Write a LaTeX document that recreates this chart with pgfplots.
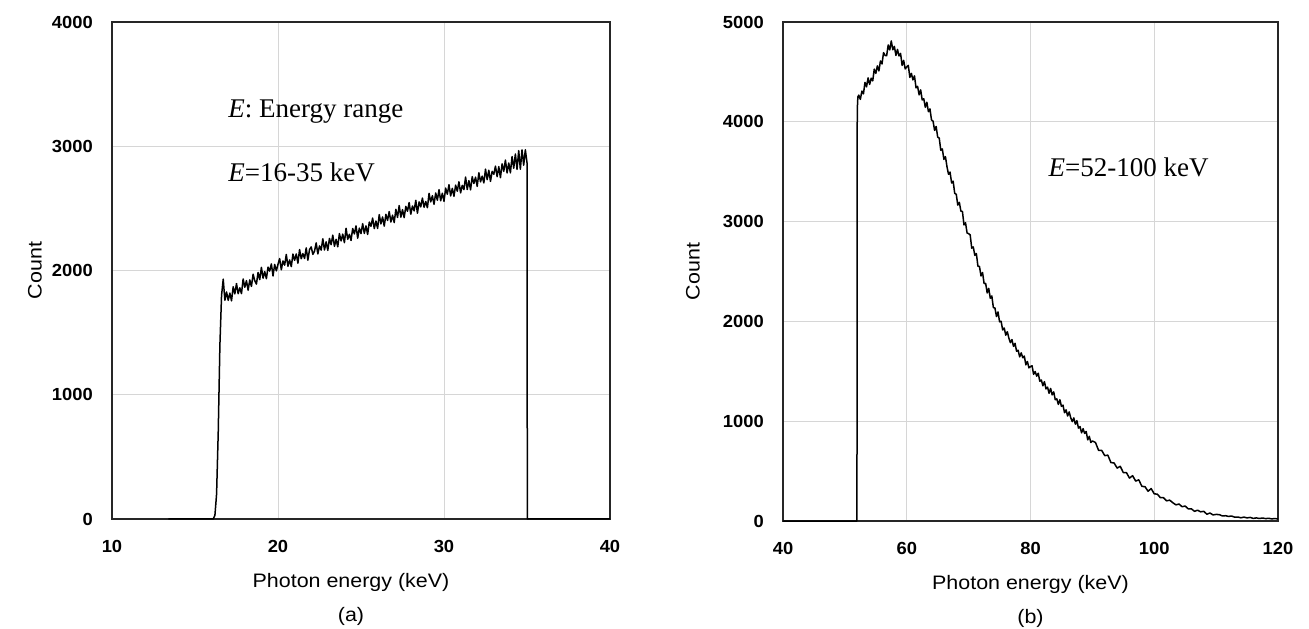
\documentclass[border=0pt]{standalone}
\usepackage{fontspec}
\setmainfont{Liberation Sans}
\newfontfamily\timesf{Liberation Serif}
\usepackage{graphicx}
\usepackage{pgfplots}
\pgfplotsset{compat=1.18}
\newcommand{\tl}[1]{\scalebox{1.05}[1]{\bfseries #1}}
\newcommand{\lb}[1]{\scalebox{1.1}[1]{#1}}
\pgfplotsset{
  spec/.style={
    scale only axis,
    axis line style={black!85, line width=1.9pt},
    grid=major,
    major grid style={black!16, line width=0.9pt},
    major tick length=0pt,
    tick style={draw=none},
    xticklabel style={font=\fontsize{17.5}{19}\selectfont, anchor=north, inner sep=0pt, yshift=-21pt},
    yticklabel style={font=\fontsize{17.5}{19}\selectfont, anchor=east, inner sep=0pt, xshift=-19pt},
    label style={font=\fontsize{19.5}{22}\selectfont},
    xlabel style={at={(axis description cs:0.5,0)}, anchor=north, inner sep=0pt, yshift=-54pt},
    ylabel style={at={(axis description cs:0,0.5)}, anchor=south, inner sep=0pt},
    clip=false,
  },
  curve/.style={black, line width=1.5pt, line join=round}
}
\begin{document}
\begin{tikzpicture}
\useasboundingbox (0pt,0pt) rectangle (1309pt,629pt);
% ---------------- panel (a)
\begin{axis}[spec,
  at={(112pt,110pt)}, anchor=south west,
  width=498pt, height=497pt,
  xmin=10, xmax=40, ymin=0, ymax=4000,
  xtick={10,20,30,40}, xticklabels={\tl{10},\tl{20},\tl{30},\tl{40}},
  ytick={0,1000,2000,3000,4000}, yticklabels={\tl{0},\tl{1000},\tl{2000},\tl{3000},\tl{4000}},
  xlabel={\lb{Photon energy (keV)}},
  xlabel style={xshift=-10pt},
  ylabel={\lb{Count}},
  ylabel style={yshift=70pt},
]
\addplot[curve] coordinates {
(13.4,0) (16.1,0) (16.2,30) (16.3,200) (16.4,700) (16.5,1400) (16.6,1800) (16.7,1930) (16.8,1760)
(16.9,1827) (17.0,1760) (17.1,1818) (17.2,1756) (17.3,1869) (17.4,1812) (17.5,1895) (17.6,1813) (17.7,1861) (17.8,1814) (17.9,1932)
(18.0,1865) (18.1,1918) (18.2,1841) (18.3,1924) (18.4,1872) (18.5,1970) (18.6,1918) (18.7,1891) (18.8,1984) (18.9,1927)
(19.0,2025) (19.1,1938) (19.2,1991) (19.3,1934) (19.4,2027) (19.5,1995) (19.6,2053) (19.7,1956) (19.8,2049) (19.9,1997)
(20.0,2050) (20.1,2096) (20.2,2006) (20.3,2077) (20.4,2043) (20.5,2129) (20.6,2034) (20.7,2085) (20.8,2031) (20.9,2132)
(21.0,2082) (21.1,2133) (21.2,2059) (21.3,2169) (21.4,2095) (21.5,2136) (21.6,2097) (21.7,2182) (21.8,2083) (21.9,2169)
(22.0,2190) (22.1,2130) (22.2,2156) (22.3,2222) (22.4,2133) (22.5,2198) (22.6,2164) (22.7,2255) (22.8,2165) (22.9,2231)
(23.0,2162) (23.1,2258) (23.2,2208) (23.3,2284) (23.4,2195) (23.5,2251) (23.6,2191) (23.7,2297) (23.8,2238) (23.9,2293)
(24.0,2224) (24.1,2340) (24.2,2251) (24.3,2291) (24.4,2242) (24.5,2338) (24.6,2294) (24.7,2359) (24.8,2260) (24.9,2341)
(25.0,2297) (25.1,2377) (25.2,2298) (25.3,2359) (25.4,2290) (25.5,2390) (25.6,2356) (25.7,2422) (25.8,2337) (25.9,2398)
(26.0,2339) (26.1,2450) (26.2,2375) (26.3,2431) (26.4,2357) (26.5,2452) (26.6,2403) (26.7,2474) (26.8,2390) (26.9,2445)
(27.0,2386) (27.1,2492) (27.2,2427) (27.3,2523) (27.4,2429) (27.5,2490) (27.6,2425) (27.7,2516) (27.8,2477) (27.9,2547)
(28.0,2453) (28.1,2519) (28.2,2480) (28.3,2565) (28.4,2461) (28.5,2552) (28.6,2512) (28.7,2583) (28.8,2509) (28.9,2555)
(29.0,2505) (29.1,2621) (29.2,2552) (29.3,2602) (29.4,2533) (29.5,2624) (29.6,2565) (29.7,2650) (29.8,2561) (29.9,2622)
(30.0,2557) (30.1,2663) (30.2,2614) (30.3,2690) (30.4,2600) (30.5,2661) (30.6,2597) (30.7,2687) (30.8,2638) (30.9,2714)
(31.0,2625) (31.1,2685) (31.2,2651) (31.3,2752) (31.4,2652) (31.5,2723) (31.6,2649) (31.7,2755) (31.8,2700) (31.9,2751)
(32.0,2677) (32.1,2787) (32.2,2713) (32.3,2759) (32.4,2705) (32.5,2815) (32.6,2731) (32.7,2807) (32.8,2717) (32.9,2798)
(33.0,2774) (33.1,2840) (33.2,2755) (33.3,2836) (33.4,2747) (33.5,2858) (33.6,2798) (33.7,2889) (33.8,2785) (33.9,2865)
(34.0,2786) (34.1,2917) (34.2,2823) (34.3,2938) (34.4,2814) (34.5,2965) (34.6,2815) (34.7,2971) (34.8,2847) (34.9,2972)
(35.0,2868) (35.02,0) (40,0)
};
\node[anchor=base west, inner sep=0pt, font=\fontsize{27}{30}\selectfont\timesf] at (axis cs:17.0,3229) {\textit{E}: Energy range};
\node[anchor=base west, inner sep=0pt, font=\fontsize{27}{30}\selectfont\timesf] at (axis cs:17.0,2713) {\textit{E}=16-35 keV};
\node[anchor=center, inner sep=0pt, font=\fontsize{19.5}{22}\selectfont] at ([xshift=-10pt]axis description cs:0.5,-0.197) {\lb{(a)}};
\end{axis}
% ---------------- panel (b)
\begin{axis}[spec,
  at={(783pt,108pt)}, anchor=south west,
  width=495pt, height=499pt,
  xmin=40, xmax=120, ymin=0, ymax=5000,
  xtick={40,60,80,100,120}, xticklabels={\tl{40},\tl{60},\tl{80},\tl{100},\tl{120}},
  ytick={0,1000,2000,3000,4000,5000}, yticklabels={\tl{0},\tl{1000},\tl{2000},\tl{3000},\tl{4000},\tl{5000}},
  xlabel={\lb{Photon energy (keV)}},
  ylabel={\lb{Count}},
  ylabel style={yshift=83pt},
]
\addplot[curve] coordinates {
(40,0) (51.95,0) (52.0,4120) (52.1,4250)
(52.25,4267) (52.5,4225) (52.75,4308) (53.0,4280) (53.25,4395) (53.5,4350) (53.75,4440) (54.0,4375)
(54.25,4437) (54.5,4410) (54.75,4528) (55.0,4485) (55.25,4560) (55.5,4510) (55.75,4610) (56.0,4580)
(56.25,4693) (56.5,4665) (56.75,4662) (57.0,4770) (57.25,4720) (57.5,4810) (57.75,4722) (58.0,4755)
(58.25,4665) (58.5,4725) (58.75,4660) (59.0,4685) (59.25,4565) (59.5,4615) (59.75,4530) (60.0,4550)
(60.25,4565) (60.5,4445) (60.75,4485) (61.0,4420) (61.25,4460) (61.5,4340) (61.75,4355) (62.0,4270)
(62.25,4320) (62.5,4219) (62.75,4231) (63.0,4145) (63.25,4196) (63.5,4102) (63.75,4130) (64.0,4018)
(64.25,4007) (64.5,3914) (64.75,3953) (65.0,3846) (65.25,3837) (65.5,3715) (65.75,3728) (66.0,3624)
(66.25,3651) (66.5,3551) (66.75,3474) (67.0,3496) (67.25,3387) (67.5,3405) (67.75,3283) (68.0,3274)
(68.25,3165) (68.5,3192) (68.75,3105) (69.0,3101) (69.25,2967) (69.5,2988) (69.75,2886) (70.0,2879)
(70.25,2867) (70.5,2734) (70.75,2746) (71.0,2662) (71.25,2680) (71.5,2554) (71.75,2550) (72.0,2455)
(72.25,2490) (72.5,2379) (72.75,2381) (73.0,2285) (73.25,2331) (73.5,2232) (73.75,2255) (74.0,2138)
(74.25,2135) (74.5,2049) (74.75,2095) (75.0,1996) (75.25,2001) (75.5,1915) (75.75,1934) (76.0,1862)
(76.25,1897) (76.5,1833) (76.75,1787) (77.0,1818) (77.25,1750) (77.5,1780) (77.75,1701) (78.0,1711)
(78.25,1645) (78.5,1685) (78.75,1636) (79.0,1652) (79.25,1565) (79.5,1598) (79.75,1535) (80.0,1547)
(80.25,1556) (80.5,1470) (80.75,1498) (81.0,1451) (81.25,1481) (81.5,1400) (81.75,1413) (82.0,1355)
(82.25,1396) (82.5,1324) (82.75,1341) (83.0,1280) (83.25,1328) (83.5,1264) (83.75,1294) (84.0,1215)
(84.25,1224) (84.5,1168) (84.75,1215) (85.0,1149) (85.25,1161) (85.5,1085) (85.75,1114) (86.0,1052)
(86.25,1093) (86.5,1035) (86.75,996) (87.0,1033) (87.25,970) (87.5,1005) (87.75,931) (88.0,946)
(88.25,883) (88.5,925) (88.75,878) (89.0,897) (89.25,813) (89.5,848) (89.75,787) (90.0,802)
(90.5,787) (91.0,708) (91.5,708) (92.0,655) (92.5,660) (93.0,585) (93.5,582) (94.0,530)
(94.5,548) (95.0,485) (95.5,485) (96.0,430) (96.5,454) (97.0,400) (97.5,413) (98.0,347)
(98.5,344) (99.0,298) (99.5,325) (100.0,272) (100.5,269) (101.0,233) (101.5,233) (102.0,202)
(102.5,209) (103.0,183) (103.5,162) (104.0,170) (104.5,143) (105.0,150) (105.5,121) (106.0,122)
(106.5,97) (107.0,108) (107.5,92) (108.0,97) (108.5,68) (109.0,80) (109.5,61) (110.0,66)
(110.5,64) (111.0,51) (111.5,53) (112.0,46) (112.5,50) (113.0,38) (113.5,40) (114.0,32)
(114.5,39) (115.0,31) (115.5,36) (116.0,26) (116.5,31) (117.0,25) (117.5,30) (118.0,24)
(118.5,27) (119.0,21) (119.5,25) (120.0,20)
};
\node[anchor=base west, inner sep=0pt, font=\fontsize{27}{30}\selectfont\timesf] at (axis cs:82.9,3447) {\textit{E}=52-100 keV};
\node[anchor=center, inner sep=0pt, font=\fontsize{19.5}{22}\selectfont] at (axis description cs:0.5,-0.196) {\lb{(b)}};
\end{axis}
\end{tikzpicture}
\end{document}
